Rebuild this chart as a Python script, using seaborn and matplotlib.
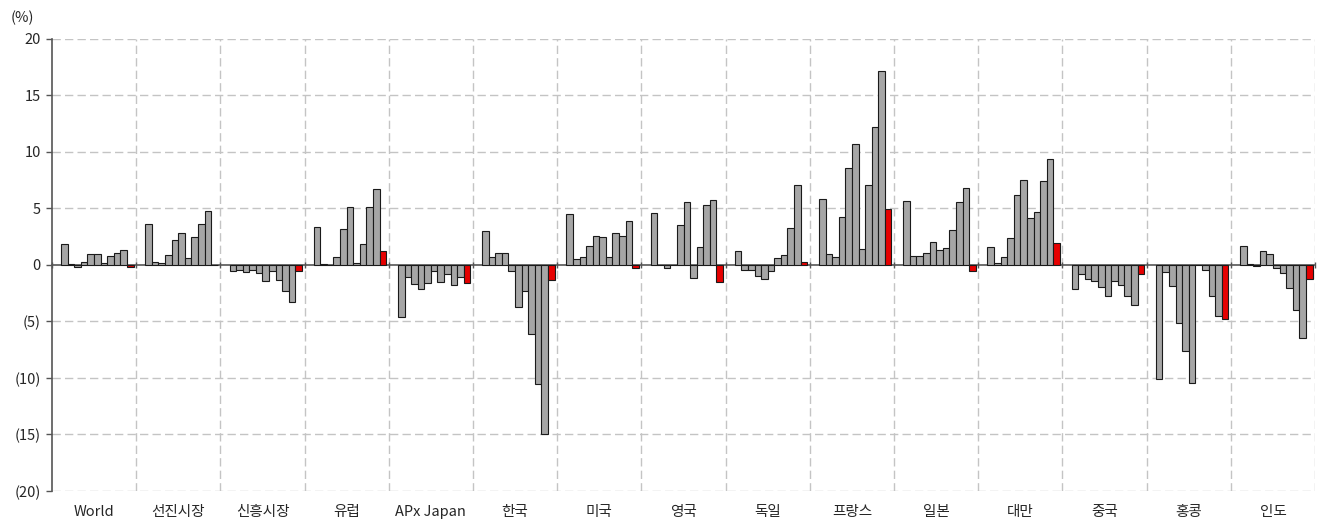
import numpy as np
import pandas as pd
import seaborn as sns
import matplotlib.pyplot as plt
from matplotlib.ticker import FuncFormatter

# Categories (x axis groups)
regions = ["World", "선진시장", "신흥시장", "유럽", "APx Japan", "한국", "미국",
           "영국", "독일", "프랑스", "일본", "대만", "중국", "홍콩", "인도"]

# 11 bars per group (last one is the highlighted red bar), values in %
world = [1.85, 0.05, -0.15, 0.3, 1.0, 1.0, 0.15, 0.8, 1.05, 1.35, -0.2]
dm = [3.65, 0.25, 0.2, 0.9, 2.25, 2.8, 0.65, 2.45, 3.6, 4.75, 0.0]
em = [-0.55, -0.4, -0.6, -0.45, -0.7, -1.45, -0.55, -1.3, -2.3, -3.3, -0.55]
europe = [3.4, 0.05, 0.0, 0.7, 3.2, 5.15, 0.2, 1.85, 5.1, 6.7, 1.25]
apx_japan = [-4.6, -1.05, -1.7, -2.1, -1.55, -0.55, -1.5, -0.8, -1.75, -1.05, -1.55]
korea = [3.0, 0.75, 1.05, 1.05, -0.55, -3.75, -2.3, -6.1, -10.5, -15.0, -1.3]
us = [4.5, 0.55, 0.7, 1.7, 2.6, 2.45, 0.75, 2.85, 2.55, 3.9, -0.25]
uk = [4.6, 0.0, -0.3, 0.0, 3.55, 5.55, -1.15, 1.6, 5.35, 5.75, -1.5]
germany = [1.2, -0.4, -0.4, -0.95, -1.2, -0.5, 0.6, 0.9, 3.3, 7.1, 0.25]
france = [5.85, 0.95, 0.7, 4.25, 8.6, 10.7, 1.4, 7.05, 12.2, 17.15, 4.95]
japan = [5.7, 0.8, 0.8, 1.05, 2.05, 1.3, 1.5, 3.1, 5.55, 6.8, -0.5]
taiwan = [1.55, 0.15, 0.75, 2.35, 6.15, 7.55, 4.2, 4.65, 7.45, 9.4, 1.95]
china = [-2.15, -0.8, -1.2, -1.4, -1.95, -2.75, -1.4, -1.8, -2.75, -3.55, -0.8]
hongkong = [-10.1, -0.6, -1.9, -5.15, -7.6, -10.45, 0.0, -0.45, -2.75, -4.5, -4.75]
india = [1.7, 0.1, -0.1, 1.25, 0.95, -0.3, -0.75, -2.05, -4.0, -6.5, -1.25]

y_ticks = [20, 15, 10, 5, 0, -5, -10, -15, -20]

group_values = [world, dm, em, europe, apx_japan, korea, us, uk, germany,
                france, japan, taiwan, china, hongkong, india]

# long table for seaborn; slot "s0" is an empty series (Excel leaves a blank slot)
series = [f"s{i}" for i in range(12)]
rows = []
for reg, vals in zip(regions, group_values):
    for i, v in enumerate(vals):
        rows.append({"region": reg, "series": series[i + 1], "value": v})
df = pd.DataFrame(rows)

palette = {s: "#A6A6A6" for s in series}
palette["s11"] = "#E60000"

sns.set_style("white")
plt.rcParams["font.family"] = ["Noto Sans CJK KR", "DejaVu Sans"]

fig = plt.figure(figsize=(13.19, 5.22), dpi=100)
ax = fig.add_axes([0.0394, 0.0594, 0.9576, 0.8659])

sns.barplot(data=df, x="region", y="value", hue="series", hue_order=series,
            order=regions, palette=palette, width=0.94, saturation=1,
            edgecolor="#1A1A1A", linewidth=0.8, errorbar=None, legend=False, ax=ax)

ax.set_xlim(-0.5, len(regions) - 0.5)
ax.set_ylim(-20, 20)
ax.set_xlabel("")
ax.set_ylabel("")

# grid lines: dashed, light gray
grid_kw = dict(color="#C4C4C4", linewidth=1.0, linestyle=(0, (6, 3)), zorder=0)
for y in y_ticks:
    if y != 0:
        ax.axhline(y, **grid_kw)
for b in np.arange(0.5, len(regions) + 0.5, 1):
    ax.axvline(b, **grid_kw)
ax.set_axisbelow(True)

# spines
for s in ["top", "right", "bottom"]:
    ax.spines[s].set_visible(False)
ax.spines["left"].set_color("#555555")
ax.spines["left"].set_linewidth(1.2)

ax.set_yticks(y_ticks)
ax.yaxis.set_major_formatter(FuncFormatter(
    lambda v, p: f"({abs(int(v))})" if v < 0 else f"{int(v)}"))
ax.tick_params(axis="y", direction="out", length=4, width=1, color="#555555",
               labelsize=10.5, pad=4, left=True)
ax.tick_params(axis="x", length=0, labelsize=10.5, pad=10)

# zero line with tick marks at group boundaries
bounds = np.arange(-0.5, len(regions) + 0.5, 1)
zero = ax.secondary_xaxis(0.5)
zero.set_xticks(bounds, labels=[""] * len(bounds))
zero.tick_params(direction="inout", length=5, width=1, color="#555555")
for s in zero.spines.values():
    s.set_color("#555555")
    s.set_linewidth(1.2)

fig.text(0.008, 0.965, "(%)", fontsize=10.5, ha="left", va="center")

fig.savefig("out.png", dpi=100)
